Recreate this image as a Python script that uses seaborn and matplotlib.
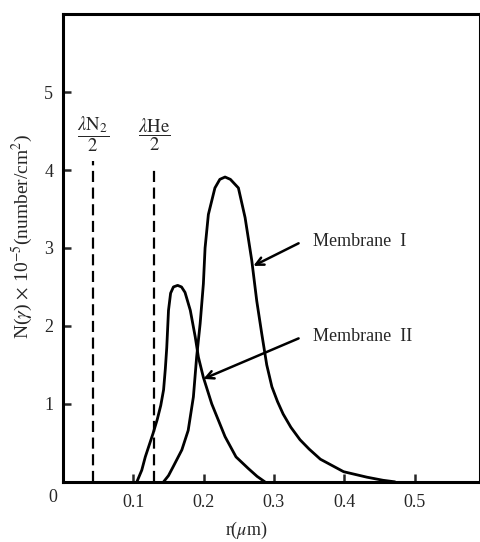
import numpy as np
import pandas as pd
import matplotlib.pyplot as plt
import seaborn as sns

# pore size distribution
r_mem1 = [0.143, 0.150, 0.157, 0.169, 0.178, 0.1854, 0.190, 0.195, 0.1996, 0.202, 0.2067,
          0.216, 0.223, 0.2304, 0.238, 0.2494, 0.2589, 0.2684, 0.2755, 0.2826, 0.2897, 0.297,
          0.305, 0.313, 0.324, 0.337, 0.350, 0.366, 0.399, 0.432, 0.455, 0.472]
n_mem1 = [0.0, 0.08, 0.20, 0.41, 0.66, 1.09, 1.60, 2.03, 2.54, 3.00, 3.43,
          3.77, 3.88, 3.91, 3.88, 3.77, 3.39, 2.84, 2.32, 1.90, 1.50, 1.22,
          1.03, 0.87, 0.70, 0.54, 0.42, 0.29, 0.13, 0.06, 0.02, 0.0]

r_mem2 = [0.105, 0.112, 0.117, 0.128, 0.134, 0.139, 0.143, 0.1455, 0.1475, 0.150, 0.153,
          0.157, 0.163, 0.1685, 0.1735, 0.181, 0.188, 0.1925, 0.1996, 0.2115, 0.2304,
          0.246, 0.2636, 0.276, 0.287]
n_mem2 = [0.0, 0.15, 0.32, 0.62, 0.80, 0.98, 1.18, 1.45, 1.72, 2.20, 2.42,
          2.50, 2.52, 2.50, 2.43, 2.20, 1.86, 1.60, 1.34, 1.00, 0.58,
          0.32, 0.17, 0.07, 0.0]

# mean free path / 2 markers
lam_x = [0.043, 0.1295]
lam_top = [4.11, 4.04]
lam_labels = [r'$\dfrac{\lambda\mathrm{N}_2}{2}$', r'$\dfrac{\lambda\mathrm{He}}{2}$']

mem_labels = ['Membrane  I', 'Membrane  II']
mem_text_y = [3.08, 1.86]
mem_arrow_tip = [(0.2707, 2.77), (0.1996, 1.32)]

x_ticks = [0.1, 0.2, 0.3, 0.4, 0.5]
y_ticks = [1, 2, 3, 4, 5]

sns.set_style("ticks")
plt.rcParams['font.family'] = ['Liberation Serif', 'DejaVu Serif']
plt.rcParams['mathtext.fontset'] = 'stix'

fig = plt.figure(figsize=(4.81, 5.42), dpi=100)
ax = fig.add_axes([0.131, 0.111, 0.867, 0.863])

df1 = pd.DataFrame({'r': r_mem1, 'N': n_mem1})
df2 = pd.DataFrame({'r': r_mem2, 'N': n_mem2})
sns.lineplot(data=df1, x='r', y='N', ax=ax, color='black', lw=2.0, estimator=None, sort=False)
sns.lineplot(data=df2, x='r', y='N', ax=ax, color='black', lw=2.0, estimator=None, sort=False)

for x, top, lab in zip(lam_x, lam_top, lam_labels):
    ax.plot([x, x], [0, top], color='black', lw=1.6, linestyle=(0, (5, 2.5)))
    ax.text(x, 4.46, lab, ha='center', va='center', fontsize=13.5)

for lab, ty, tip in zip(mem_labels, mem_text_y, mem_arrow_tip):
    ax.annotate('', xy=tip, xytext=(0.335, ty - 0.02),
                arrowprops=dict(arrowstyle='->', color='black', lw=1.8,
                                mutation_scale=14, shrinkA=0, shrinkB=0))
    ax.text(0.356, ty, lab, ha='left', va='center', fontsize=13)

ax.set_xlim(0, 0.593)
ax.set_ylim(0, 6.0)
ax.set_xticks(x_ticks)
ax.set_xticklabels([f'{t:.1f}' for t in x_ticks])
ax.set_yticks(y_ticks)
ax.set_yticklabels([str(t) for t in y_ticks])
ax.tick_params(direction='in', length=6, width=1.8, labelsize=13)
ax.tick_params(axis='x', pad=9)
ax.tick_params(axis='y', pad=7)
# corner zero label
ax.text(-0.014, -0.034, '0', transform=ax.get_xaxis_transform(), ha='center', va='center',
        fontsize=13)

for side in ['left', 'bottom', 'top', 'right']:
    ax.spines[side].set_linewidth(2.2)
    ax.spines[side].set_color('black')

ax.set_xlabel(r'r($\mu$m)', fontsize=13)
ax.set_ylabel(r'N($\gamma$) $\times$ 10$^{-5}$(number/cm$^2$)', fontsize=14)
ax.xaxis.set_label_coords(0.44, -0.082)
ax.yaxis.set_label_coords(-0.066, 0.525)

fig.savefig('out.png', dpi=100)
